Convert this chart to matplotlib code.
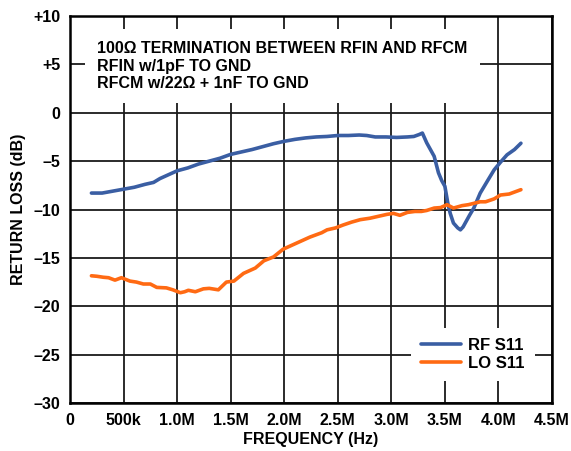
import matplotlib.pyplot as plt
import matplotlib
import numpy as np

matplotlib.rcParams.update({
    'font.family': 'Liberation Sans',
    'font.weight': 'bold',
    'font.size': 11.5,
})

# --- data (frequency in MHz, return loss in dB) ---
rf_freq = [0.2, 0.3, 0.4, 0.5, 0.6, 0.7, 0.78, 0.84, 0.9, 1.0, 1.1, 1.2, 1.3,
           1.4, 1.5, 1.6, 1.7, 1.8, 1.9, 2.0, 2.1, 2.2, 2.3, 2.4, 2.5, 2.6,
           2.7, 2.77, 2.85, 2.95, 3.05, 3.15, 3.21, 3.26, 3.29, 3.33, 3.37,
           3.40, 3.44, 3.47, 3.50, 3.53, 3.55, 3.58, 3.62, 3.645, 3.67, 3.69,
           3.73, 3.77, 3.83, 3.9, 3.96, 4.02, 4.08, 4.15, 4.21]
rf_s11 = [-8.3, -8.3, -8.1, -7.9, -7.7, -7.4, -7.2, -6.8, -6.5, -6.0, -5.7,
          -5.3, -5.0, -4.7, -4.3, -4.05, -3.8, -3.5, -3.2, -2.95, -2.75, -2.6,
          -2.5, -2.45, -2.35, -2.35, -2.3, -2.35, -2.5, -2.5, -2.55, -2.5,
          -2.45, -2.25, -2.1, -3.1, -3.9, -4.5, -6.2, -7.0, -7.6, -9.5, -10.4,
          -11.4, -11.9, -12.1, -11.8, -11.4, -10.6, -9.85, -8.3, -7.0, -5.9,
          -5.1, -4.35, -3.8, -3.15]

lo_freq = [0.2, 0.25, 0.31, 0.36, 0.42, 0.48, 0.56, 0.62, 0.685, 0.75, 0.81,
           0.9, 0.96, 1.03, 1.07, 1.105, 1.17, 1.245, 1.3, 1.385, 1.46, 1.53,
           1.62, 1.73, 1.81, 1.9, 1.99, 2.09, 2.15, 2.24, 2.35, 2.40, 2.48,
           2.55, 2.63, 2.71, 2.80, 2.90, 2.96, 3.02, 3.08, 3.15, 3.22, 3.28,
           3.33, 3.40, 3.46, 3.52, 3.58, 3.66, 3.72, 3.83, 3.88, 3.96, 4.02,
           4.1, 4.21]
lo_s11 = [-16.85, -16.9, -17.0, -17.05, -17.3, -17.05, -17.4, -17.5, -17.7,
          -17.7, -18.05, -18.1, -18.3, -18.6, -18.5, -18.35, -18.5, -18.2,
          -18.15, -18.3, -17.5, -17.4, -16.6, -16.05, -15.3, -14.9, -14.1,
          -13.6, -13.3, -12.85, -12.4, -12.1, -11.9, -11.6, -11.3, -11.05,
          -10.9, -10.65, -10.5, -10.4, -10.6, -10.3, -10.2, -10.2, -10.1,
          -9.85, -9.8, -9.5, -9.85, -9.6, -9.5, -9.2, -9.2, -8.9, -8.5, -8.4,
          -7.95]

x_ticks = [0, 0.5, 1.0, 1.5, 2.0, 2.5, 3.0, 3.5, 4.0, 4.5]
x_labels = ['0', '500k', '1.0M', '1.5M', '2.0M', '2.5M', '3.0M', '3.5M',
            '4.0M', '4.5M']
y_ticks = [10, 5, 0, -5, -10, -15, -20, -25, -30]
y_labels = ['+10', '+5', '0', '–5', '–10', '–15', '–20', '–25', '–30']

fig = plt.figure(figsize=(5.71, 4.51), dpi=100)
ax = fig.add_axes([0.1226, 0.1064, 0.8441, 0.8581])

ax.plot(rf_freq, rf_s11, color='#3a5ea3', lw=2.6, label='RF S11', zorder=4,
        solid_joinstyle='round', solid_capstyle='round')
ax.plot(lo_freq, lo_s11, color='#ff6a13', lw=2.6, label='LO S11', zorder=4,
        solid_joinstyle='round', solid_capstyle='round')

ax.set_xlim(0, 4.5)
ax.set_ylim(-30, 10)
ax.set_xticks(x_ticks)
ax.set_xticklabels(x_labels)
ax.set_yticks(y_ticks)
ax.set_yticklabels(y_labels)
ax.tick_params(length=0, pad=7)
ax.grid(True, color='#1a1a1a', lw=1.3)
ax.set_axisbelow(True)
for s in ax.spines.values():
    s.set_linewidth(1.8)

ax.set_xlabel('FREQUENCY (Hz)', fontweight='bold', labelpad=3)
ax.set_ylabel('RETURN LOSS (dB)', fontweight='bold', labelpad=5)

ax.text(0.057, 0.935,
        '100Ω TERMINATION BETWEEN RFIN AND RFCM\nRFIN w/1pF TO GND\nRFCM w/22Ω + 1nF TO GND',
        transform=ax.transAxes, ha='left', va='top', linespacing=1.22,
        fontweight='bold', zorder=5,
        bbox=dict(boxstyle='square,pad=0.75', facecolor='white',
                  edgecolor='none'))

leg = ax.legend(loc='lower right', bbox_to_anchor=(0.982, 0.035),
                frameon=True, fancybox=False, edgecolor='none',
                facecolor='white', framealpha=1, handlelength=2.4,
                handletextpad=0.45, labelspacing=0.2, borderpad=0.6,
                fontsize=12)
leg.set_zorder(5)

fig.savefig('out.png', dpi=100)
